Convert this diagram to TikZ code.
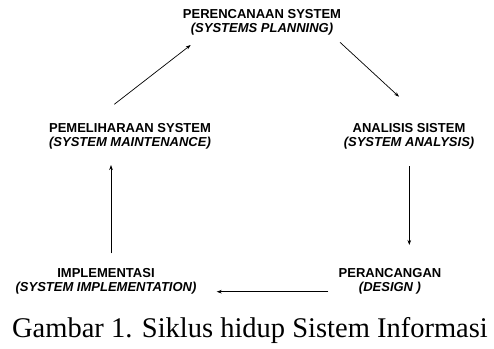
\documentclass[tikz,border=0pt]{standalone}
\usepackage{fontspec}
\setmainfont{Liberation Serif}
\newfontfamily\labelfont{Liberation Sans}
\usetikzlibrary{arrows.meta}

\begin{document}
\begin{tikzpicture}
[
  x=1pt, y=-1pt,
	stage/.style={align=center,inner sep=1pt,font=\labelfont\fontsize{13}{14}\selectfont\bfseries},
	arr/.style={line width=0.7pt,-{Stealth[length=5pt,width=3.6pt]}},
	capt/.style={anchor=base,inner sep=0pt,font=\fontsize{28.5}{30}\selectfont}
]
\useasboundingbox (0,0) rectangle (494,348);

% stages of the cycle
\node[stage](plan) at (262,22) {PERENCANAAN SYSTEM\\\textit{(SYSTEMS PLANNING)}};
\node[stage](anal) at (409,136) {ANALISIS SISTEM\\\textit{(SYSTEM ANALYSIS)}};
\node[stage](desn) at (390,281) {PERANCANGAN\\\textit{(DESIGN )}};
\node[stage](impl) at (106,281) {IMPLEMENTASI\\\textit{(SYSTEM IMPLEMENTATION)}};
\node[stage](maint) at (130,136) {PEMELIHARAAN SYSTEM\\\textit{(SYSTEM MAINTENANCE)}};

% arrow ends
\coordinate (plan-in) at (190.7,45);
\coordinate (plan-out) at (340,42.3);
\coordinate (anal-in) at (399,96.7);
\coordinate (anal-out) at (409.3,166);
\coordinate (desn-in) at (409.3,245);
\coordinate (desn-out) at (328.3,291.7);
\coordinate (impl-in) at (216.7,291.7);
\coordinate (impl-out) at (111,253.3);
\coordinate (maint-in) at (111,165);
\coordinate (maint-out) at (114.3,104.3);

\draw[arr] (plan-out) -- (anal-in);
\draw[arr] (anal-out) -- (desn-in);
\draw[arr] (desn-out) -- (impl-in);
\draw[arr] (impl-out) -- (maint-in);
\draw[arr] (maint-out) -- (plan-in);

\node[capt](caption) at (250,337) {Gambar 1. Siklus hidup Sistem Informasi};

\end{tikzpicture}
\end{document}
